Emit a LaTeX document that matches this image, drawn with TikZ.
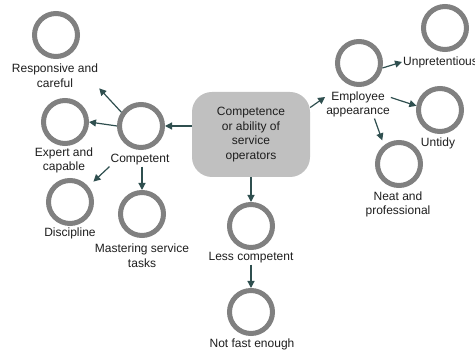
\documentclass[tikz,border=0pt]{standalone}
\usepackage{fontspec}
\setmainfont{Liberation Sans}
\usetikzlibrary{arrows.meta,calc}
\definecolor{ringgray}{RGB}{128,128,128}
\definecolor{boxgray}{RGB}{192,192,192}
\definecolor{arrowteal}{RGB}{47,79,79}
\definecolor{txt}{RGB}{30,30,30}
\begin{document}
\begin{tikzpicture}[x=1pt,y=-1pt,
  ring/.style={circle,draw=ringgray,line width=5pt,minimum size=43pt,inner sep=0pt},
  lbl/.style={font=\fontsize{12}{14.5}\selectfont,text=txt,align=center,inner sep=1pt},
  arr/.style={draw=arrowteal,line width=1.2pt,-{Triangle[length=7pt,width=7pt]},arrowteal},
  mainbox/.style={rounded corners=20pt,fill=boxgray,minimum width=118pt,minimum height=85pt,
    font=\fontsize{12}{14.4}\selectfont,text=txt,align=center,inner sep=0pt}]
\useasboundingbox[fill=white] (0,0) rectangle (475,352);

\node[mainbox] (box) at (251,134.5) {Competence\\or ability of\\service\\operators};

\node[ring] (resp) at (56,35) {};
\node[lbl] (respL) at (55,75.5) {Responsive and\\careful};
\node[ring] (exp) at (65,122) {};
\node[lbl] (expL) at (64,160.5) {Expert and\\capable};
\node[ring] (comp) at (141,126) {};
\node[lbl] (compL) at (140,160) {Competent};
\node[ring] (disc) at (70,202) {};
\node[lbl] (discL) at (70,233) {Discipline};
\node[ring] (mast) at (142,214) {};
\node[lbl] (mastL) at (142,255.5) {Mastering service\\tasks};
\node[ring] (less) at (251,226) {};
\node[lbl] (lessL) at (251,258) {Less competent};
\node[ring] (fast) at (251,312) {};
\node[lbl] (fastL) at (252,344) {Not fast enough};
\node[ring] (emp) at (359,63) {};
\node[lbl] (empL) at (358,104.5) {Employee\\appearance};
\node[ring] (unp) at (445,28) {};
\node[lbl,anchor=west] (unpL) at (402,62) {Unpretentious};
\node[ring] (untidy) at (440,110) {};
\node[lbl] (untidyL) at (438,143) {Untidy};
\node[ring] (neat) at (399,164) {};
\node[lbl] (neatL) at (398,204.5) {Neat and\\professional};

\draw[arr] (box.west |- comp.east) -- (comp.east);
\draw[arr] (comp.west) -- (exp.east);
\draw[arr] (comp.145) -- (respL.south east);
\draw[arr] (compL.south west) -- ([shift={(8pt,2pt)}]disc.50);
\draw[arr] (compL.south -| mast.north) -- (mast.north);
\draw[arr] (box.south -| less.north) -- (less.north);
\draw[arr] (lessL.south -| fast.north) -- (fast.north);
\draw[arr] ([yshift=27pt]box.east) -- ([yshift=7.5pt]empL.west);
\draw[arr] (emp.-12) -- (unpL.west);
\draw[arr] ([yshift=7pt]empL.east) -- (untidy.170);
\draw[arr] ($(empL.south)!0.5!(empL.south east)$) -- ([shift={(-3pt,4pt)}]neat.125);
\end{tikzpicture}
\end{document}
